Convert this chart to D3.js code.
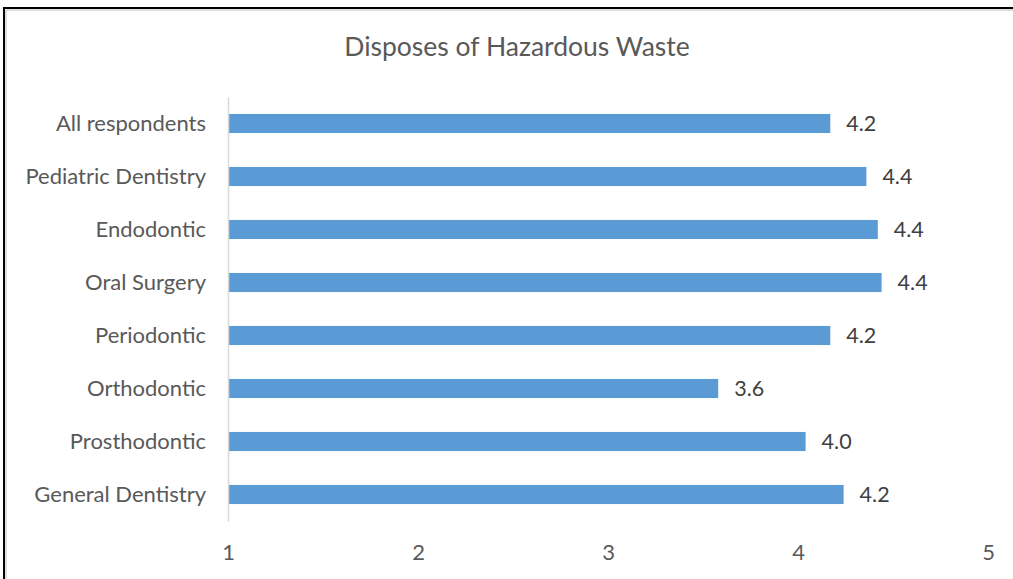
<!DOCTYPE html>
<html>
<head>
<meta charset="utf-8">
<script src="https://cdn.jsdelivr.net/npm/d3@7"></script>
<style>
  body { margin: 0; background: #fff; }
  svg { display: block; font-family: Lato, "Open Sans", sans-serif; }
</style>
</head>
<body>
<svg width="1013" height="579"></svg>
<script>
// data, top to bottom as in the chart
const categories = ["All respondents", "Pediatric Dentistry", "Endodontic", "Oral Surgery",
                    "Periodontic", "Orthodontic", "Prosthodontic", "General Dentistry"];
const values = [4.17, 4.36, 4.42, 4.44, 4.17, 3.58, 4.04, 4.24];
const tickValues = [1, 2, 3, 4, 5];

const svg = d3.select("svg");

// frame (black outer, light grey inner)
svg.append("path").attr("d", "M4,579 V8 H1013").attr("fill", "none")
  .attr("stroke", "#000").attr("stroke-width", 2);
svg.append("path").attr("d", "M6,579 V10 H1013").attr("fill", "none")
  .attr("stroke", "#bfbfbf").attr("stroke-width", 1);

const x = d3.scaleLinear().domain([1, 5]).range([228, 988]);
const y = d3.scaleBand().domain(categories).range([97, 521]).paddingInner(0.64).paddingOuter(0.32);

svg.append("text")
  .attr("x", 517).attr("y", 56)
  .attr("text-anchor", "middle")
  .attr("fill", "#595959")
  .style("font-size", "26.5px")
  .text("Disposes of Hazardous Waste");

// bars
svg.append("g").selectAll("rect")
  .data(values)
  .enter()
  .append("rect")
  .attr("x", x(1) + 1)
  .attr("y", (d, i) => y(categories[i]))
  .attr("width", d => x(d) - x(1) - 1)
  .attr("height", y.bandwidth())
  .attr("fill", "#5b9bd5");

// value labels
svg.append("g").selectAll("text")
  .data(values)
  .enter()
  .append("text")
  .attr("x", d => x(d) + 16)
  .attr("y", (d, i) => y(categories[i]) + y.bandwidth() / 2)
  .attr("dy", "0.36em")
  .attr("fill", "#404040")
  .style("font-size", "21.5px")
  .text(d => d.toFixed(1));

// category axis
const yAxis = svg.append("g")
  .attr("transform", "translate(" + x(1) + ",0)")
  .call(d3.axisLeft(y).tickSize(0).tickPadding(22));
yAxis.select(".domain").attr("stroke", "#d9d9d9").attr("stroke-width", 1.5);
yAxis.selectAll("text").attr("fill", "#595959").style("font-size", "22px")
  .style("font-family", "Lato, 'Open Sans', sans-serif");

// value axis (labels only)
const xAxis = svg.append("g")
  .attr("transform", "translate(0,540)")
  .call(d3.axisBottom(x).tickValues(tickValues).tickSize(0).tickPadding(4).tickFormat(d3.format("d")));
xAxis.select(".domain").remove();
xAxis.selectAll("text").attr("fill", "#595959").style("font-size", "22px")
  .style("font-family", "Lato, 'Open Sans', sans-serif");
</script>
</body>
</html>
